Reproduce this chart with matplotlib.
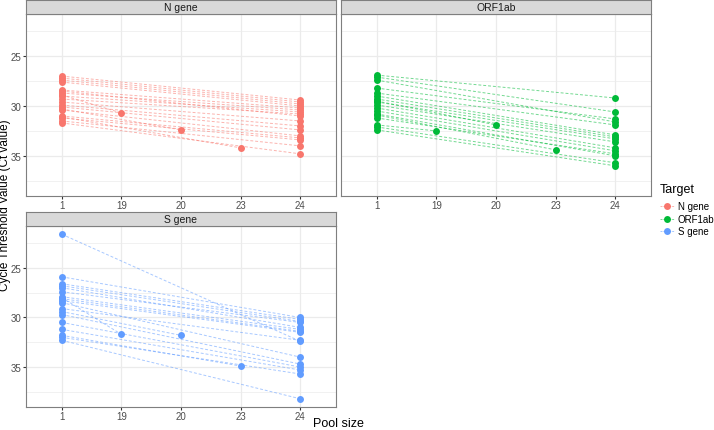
import matplotlib
matplotlib.use("Agg")
import matplotlib.pyplot as plt
from matplotlib.lines import Line2D

plt.rcParams['font.family'] = ['Liberation Sans', 'DejaVu Sans']

# pool size categories on the x axis
pools = ['1', '19', '20', '23', '24']
targets = ['N gene', 'ORF1ab', 'S gene']
colors = ['#F8766D', '#00BA38', '#619CFF']

# N gene: Ct of the single sample, pool size, Ct of the pooled sample
n_ct1 = [27.0, 27.2, 27.4, 27.6, 28.4, 28.7, 29.0, 29.3, 28.5, 29.6, 29.9, 30.1, 30.4,
         31.0, 31.2, 31.5, 31.7, 28.9, 30.3, 31.1]
n_pool = ['24'] * 17 + ['19', '20', '23']
n_ctp = [29.4, 29.6, 29.8, 30.0, 30.2, 30.4, 30.6, 30.8, 31.0, 31.5, 32.0, 32.4, 33.0,
         33.2, 33.4, 34.0, 34.8, 30.7, 32.4, 34.2]

# ORF1ab
o_ct1 = [26.9, 27.1, 28.2, 27.4, 28.7, 29.0, 29.3, 29.6, 29.9, 30.2, 30.5, 31.2, 30.8,
         32.1, 32.4, 31.9, 29.5, 30.9]
o_pool = ['24'] * 15 + ['19', '20', '23']
o_ctp = [29.2, 30.6, 31.3, 31.6, 31.9, 32.9, 33.1, 33.3, 33.6, 34.2, 34.5, 34.8, 35.0,
         35.7, 36.0, 32.5, 31.9, 34.4]

# S gene
s_ct1 = [21.6, 25.9, 26.6, 26.8, 27.0, 27.4, 27.9, 28.1, 28.3, 28.5, 29.1, 29.7, 30.5,
         31.2, 32.0, 32.3, 28.0, 29.4, 31.8]
s_pool = ['24'] * 16 + ['19', '20', '23']
s_ctp = [32.4, 30.0, 30.2, 30.4, 31.0, 30.5, 31.2, 31.4, 31.5, 34.0, 32.3, 34.7, 35.0,
         35.3, 35.7, 38.2, 31.7, 31.8, 34.9]

data = [(n_ct1, n_pool, n_ctp), (o_ct1, o_pool, o_ctp), (s_ct1, s_pool, s_ctp)]

W, H = 714, 431
fig = plt.figure(figsize=(W / 100, H / 100), dpi=100)

# panel boxes in pixels: left, top(strip top), right, bottom
boxes = [(26, 1, 336, 197), (341, 1, 651, 197), (26, 213, 336, 408)]
strip_h = 14

lo = min(min(d[0] + d[2]) for d in data)
hi = max(max(d[0] + d[2]) for d in data)
pad = (hi - lo) * 0.05

for k, (l, t, r, b) in enumerate(boxes):
    ct1, pool, ctp = data[k]
    col = colors[k]
    ax = fig.add_axes([l / W, 1 - b / H, (r - l) / W, (b - t - strip_h) / H])
    ax.set_facecolor('white')
    for a, p, c in zip(ct1, pool, ctp):
        ax.plot([0, pools.index(p)], [a, c], ls=(0, (3, 2)), lw=0.7, color=col, alpha=0.55, zorder=2)
    ax.plot([0] * len(ct1), ct1, 'o', color=col, ms=5, mec='none', zorder=3)
    ax.plot([pools.index(p) for p in pool], ctp, 'o', color=col, ms=5, mec='none', zorder=3)
    ax.set_xlim(-0.6, 4.6)
    ax.set_ylim(hi + pad, lo - pad)
    ax.set_xticks(range(len(pools)))
    ax.set_xticklabels(pools)
    ax.set_yticks([25, 30, 35])
    ax.set_yticks([22.5, 27.5, 32.5, 37.5], minor=True)
    ax.grid(True, which='major', color='#EBEBEB', lw=0.9, zorder=0)
    ax.grid(True, which='minor', axis='y', color='#EBEBEB', lw=0.5, zorder=0)
    ax.set_axisbelow(True)
    ax.tick_params(which='both', length=2, color='#333333', labelsize=7, labelcolor='#4D4D4D', pad=1.2)
    ax.tick_params(which='minor', length=0)
    if k == 1:
        ax.tick_params(axis='y', length=0, labelleft=False)
    for s in ax.spines.values():
        s.set_color('#7F7F7F')
        s.set_linewidth(0.8)
    # strip
    sax = fig.add_axes([l / W, 1 - (t + strip_h) / H, (r - l) / W, strip_h / H])
    sax.set_facecolor('#D9D9D9')
    sax.set_xticks([])
    sax.set_yticks([])
    for s in sax.spines.values():
        s.set_color('#7F7F7F')
        s.set_linewidth(0.8)
    sax.text(0.5, 0.5, targets[k], ha='center', va='center', fontsize=7.5, color='#1A1A1A',
             transform=sax.transAxes)

fig.text(338 / W, 1 - 424 / H, 'Pool size', ha='center', va='center', fontsize=9)
fig.text(5.5 / W, 1 - 205 / H, 'Cycle Threshold Value (Ct value)', ha='center', va='center',
         rotation=90, fontsize=8.5)

# legend drawn by hand so it fits the right margin
fig.text(660 / W, 1 - 190 / H, 'Target', ha='left', va='center', fontsize=9)
for k, name in enumerate(targets):
    yk = 1 - (207 + k * 12.7) / H
    fig.add_artist(Line2D([660 / W, 674 / W], [yk, yk], transform=fig.transFigure,
                          color=colors[k], lw=0.7, ls=(0, (2, 1)), alpha=0.55))
    fig.add_artist(Line2D([667 / W], [yk], transform=fig.transFigure, marker='o', ms=5,
                          mec='none', color=colors[k], ls='none'))
    fig.text(678 / W, yk, name, ha='left', va='center', fontsize=7)

fig.savefig('out.png', dpi=100)
